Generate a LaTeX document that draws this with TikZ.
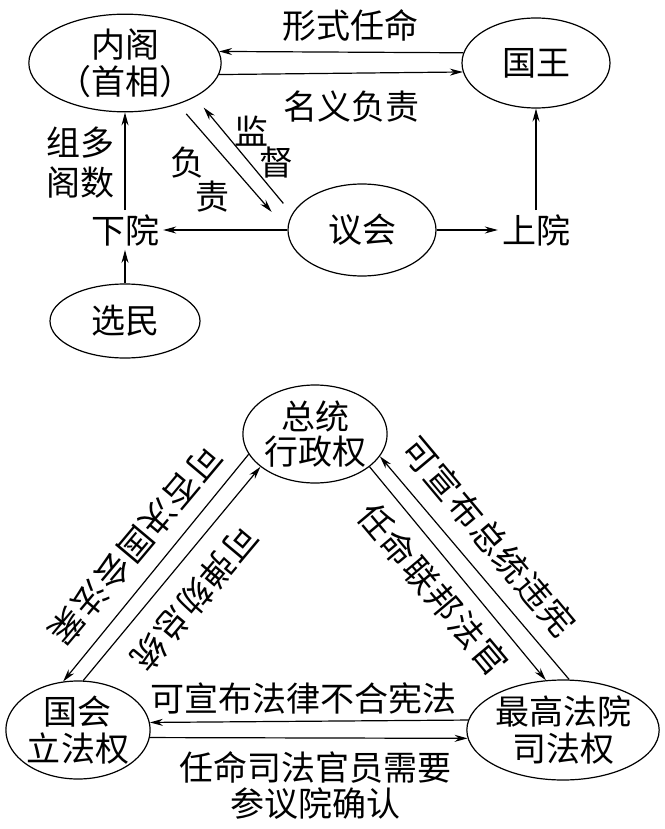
\documentclass[tikz,border=0pt]{standalone}
\usepackage{fontspec}
\newfontfamily\cjk{Noto Sans CJK SC}
\newfontfamily\cjkwide{Noto Sans CJK SC}[LetterSpace=4.4]
\usetikzlibrary{shapes.geometric,arrows.meta}

\begin{document}
\begin{tikzpicture}[x=1pt,y=-1pt,>={Stealth[length=13pt,width=7pt]},
    every node/.style={font=\cjk\fontsize{34}{37}\selectfont, align=center, inner sep=4pt},
    oval/.style={shape=ellipse, draw, line width=1.2pt, inner sep=0pt, minimum width=148pt, minimum height=90pt},
    slanted/.style={font=\cjkwide\fontsize{34}{37}\selectfont, inner sep=1pt},
    link/.style={->, line width=1.2pt},]
    \useasboundingbox (0,0) rectangle (664,829);
	% create the nodes (upper picture)
    \node (cab)[oval] at (125,63) {内阁\\（首相）};
    \node (king)[oval] at (536,63) {国王};
    \node (parl)[oval, minimum height=92pt] at (362,230) {议会};
    \node (voter)[oval, minimum width=150pt, minimum height=74pt] at (125,321) {选民};
    \node (lower) at (125,230) {下院};
    \node (upper) at (536,230) {上院};
    \node (formal) at (350,25) {形式任命};
    \node (nominal) at (351,107) {名义负责};
    \node (majority)[font=\cjk\fontsize{34}{40}\selectfont] at (80,163) {组多\\阁数};
    \node (watch)[align=left, font=\cjk\fontsize{34}{31}\selectfont] at (264,147) {监\\\hspace*{25pt}督};
    \node (answer)[align=left, font=\cjk\fontsize{34}{34}\selectfont] at (200,180) {负\\\hspace*{25pt}责};

	% create the nodes (lower picture)
    \node (pres)[oval, minimum width=140pt, minimum height=98pt, font=\cjk\fontsize{34}{35}\selectfont] at (315,434) {总统\\行政权};
    \node (cong)[oval, minimum width=142pt, minimum height=98pt] at (78,730) {国会\\立法权};
    \node (court)[oval, minimum width=182pt, minimum height=100pt] at (563,730) {最高法院\\司法权};
    \node (veto)[slanted, rotate=230] at (136,545) {可否决国会法案};
    \node (impeach)[slanted, rotate=230] at (195,598) {可弹劾总统};
    \node (unconst)[slanted, rotate=-50] at (489,537) {可宣布总统违宪};
    \node (appoint)[slanted, rotate=-50] at (433,589) {任命联邦法官};
    \node (review) at (303,698) {可宣布法律不合宪法};
    \node (confirm)[font=\cjk\fontsize{34}{36}\selectfont] at (315,785) {任命司法官员需要\\参议院确认};

	% connect the nodes
    \draw[link] (king.172.1) -- (cab.7.9);
    \draw[link] (cab.-7.9) -- (king.187.9);
    \draw[link] (lower) -- (cab);
    \draw[link] (voter) -- (lower);
    \draw[link] (upper) -- (king);
    \draw[link] (parl) -- (lower);
    \draw[link] (parl) -- (upper);
    \draw[link, shorten <=12.6pt, shorten >=24pt] (cab.-38) -- (parl.180);
    \draw[link, shorten <=13.6pt, shorten >=13.6pt] (parl.167) -- (cab.-26);

    \draw[link] (pres.197) -- (cong.107);
    \draw[link] (cong.84) -- (pres.211);
    \draw[link] (court.83) -- (pres.-19);
    \draw[link] (pres.-31) -- (court.109);
    \draw[link] (court.174.9) -- (cong.6.5);
    \draw[link] (cong.-6.5) -- (court.185.1);

\end{tikzpicture}
\end{document}
